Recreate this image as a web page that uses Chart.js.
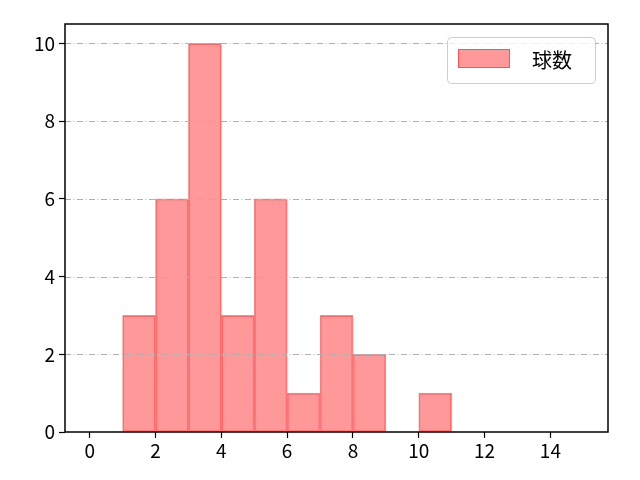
<!DOCTYPE html>
<html>
<head>
<meta charset="utf-8">
<script src="https://cdn.jsdelivr.net/npm/chart.js@4"></script>
<style>
  html, body { margin: 0; padding: 0; background: #fff; }
  #wrap { width: 640px; height: 480px; }
</style>
</head>
<body>
<div id="wrap"><canvas id="chart" width="640" height="480"></canvas></div>
<script>
// histogram bins (left edges) and counts
const binStarts = [1, 2, 3, 4, 5, 6, 7, 8, 9, 10];
const counts = [3, 6, 10, 3, 6, 1, 3, 2, 0, 1];
const seriesLabel = "球数";
const xTicks = [0, 2, 4, 6, 8, 10, 12, 14];
const yTicks = [0, 2, 4, 6, 8, 10];

const FONT = "'Noto Sans CJK JP', 'DejaVu Sans', sans-serif";

const frame = {
  id: "frame",
  afterDatasetsDraw(chart) {
    const { ctx, chartArea: a } = chart;
    ctx.save();
    // dash-dot grid on top of bars
    ctx.strokeStyle = "rgba(176,176,176,1)";
    ctx.lineWidth = 1;
    ctx.setLineDash([6, 2.5, 1, 2.5]);
    const ys = chart.scales.y;
    yTicks.forEach((t) => {
      if (t === 0) return;
      const py = Math.round(ys.getPixelForValue(t)) + 0.5;
      ctx.beginPath();
      ctx.moveTo(a.left, py);
      ctx.lineTo(a.right, py);
      ctx.stroke();
    });
    ctx.setLineDash([]);
    ctx.strokeStyle = "#000";
    ctx.lineWidth = 1.5;
    ctx.strokeRect(a.left, a.top, a.right - a.left, a.bottom - a.top);

    // legend box
    const ds = chart.data.datasets[0];
    const bx = 447, by = 37, bw = 148, bh = 46;
    ctx.lineWidth = 1;
    ctx.strokeStyle = "#cccccc";
    ctx.fillStyle = "rgba(255,255,255,0.8)";
    ctx.beginPath();
    ctx.roundRect(bx + 0.5, by + 0.5, bw, bh, 4);
    ctx.fill();
    ctx.stroke();
    ctx.fillStyle = ds.backgroundColor;
    ctx.fillRect(458, 49, 52, 19);
    ctx.strokeStyle = ds.borderColor;
    ctx.strokeRect(458.5, 49.5, 51, 18);
    ctx.fillStyle = "#000";
    ctx.font = "20px " + FONT;
    ctx.textBaseline = "middle";
    ctx.fillText(ds.label, 532, 60);
    ctx.restore();
  },
};

new Chart(document.getElementById("chart"), {
  type: "bar",
  data: {
    datasets: [
      {
        label: seriesLabel,
        data: binStarts.map((b, i) => ({ x: b + 0.5, y: counts[i] })),
        backgroundColor: "rgba(255,0,0,0.4)",
        borderColor: "rgba(255,0,0,0.45)",
        borderWidth: 1,
        borderSkipped: false,
        barPercentage: 1,
        categoryPercentage: 1,
        grouped: false,
      },
    ],
  },
  options: {
    responsive: false,
    animation: false,
    devicePixelRatio: 1,
    layout: { padding: { top: 24, right: 32, left: 0, bottom: 0 } },
    plugins: { legend: { display: false }, tooltip: { enabled: false } },
    scales: {
      x: {
        type: "linear",
        offset: false,
        min: -0.75,
        max: 15.75,
        afterBuildTicks(s) { s.ticks = xTicks.map((v) => ({ value: v })); },
        afterFit(s) { s.height = 48; },
        grid: { offset: false, drawOnChartArea: false, tickLength: 6, color: "#000", tickWidth: 1.2 },
        border: { display: false },
        ticks: { color: "#000", font: { family: FONT, size: 19 }, padding: 1, maxRotation: 0 },
      },
      y: {
        min: 0,
        max: 10.5,
        afterBuildTicks(s) { s.ticks = yTicks.map((v) => ({ value: v })); },
        afterFit(s) { s.width = 65; },
        grid: { drawOnChartArea: false, tickLength: 6, color: "#000", tickWidth: 1.2 },
        border: { display: false },
        ticks: { color: "#000", font: { family: FONT, size: 19 }, padding: 4 },
      },
    },
  },
  plugins: [frame],
});
</script>
</body>
</html>
